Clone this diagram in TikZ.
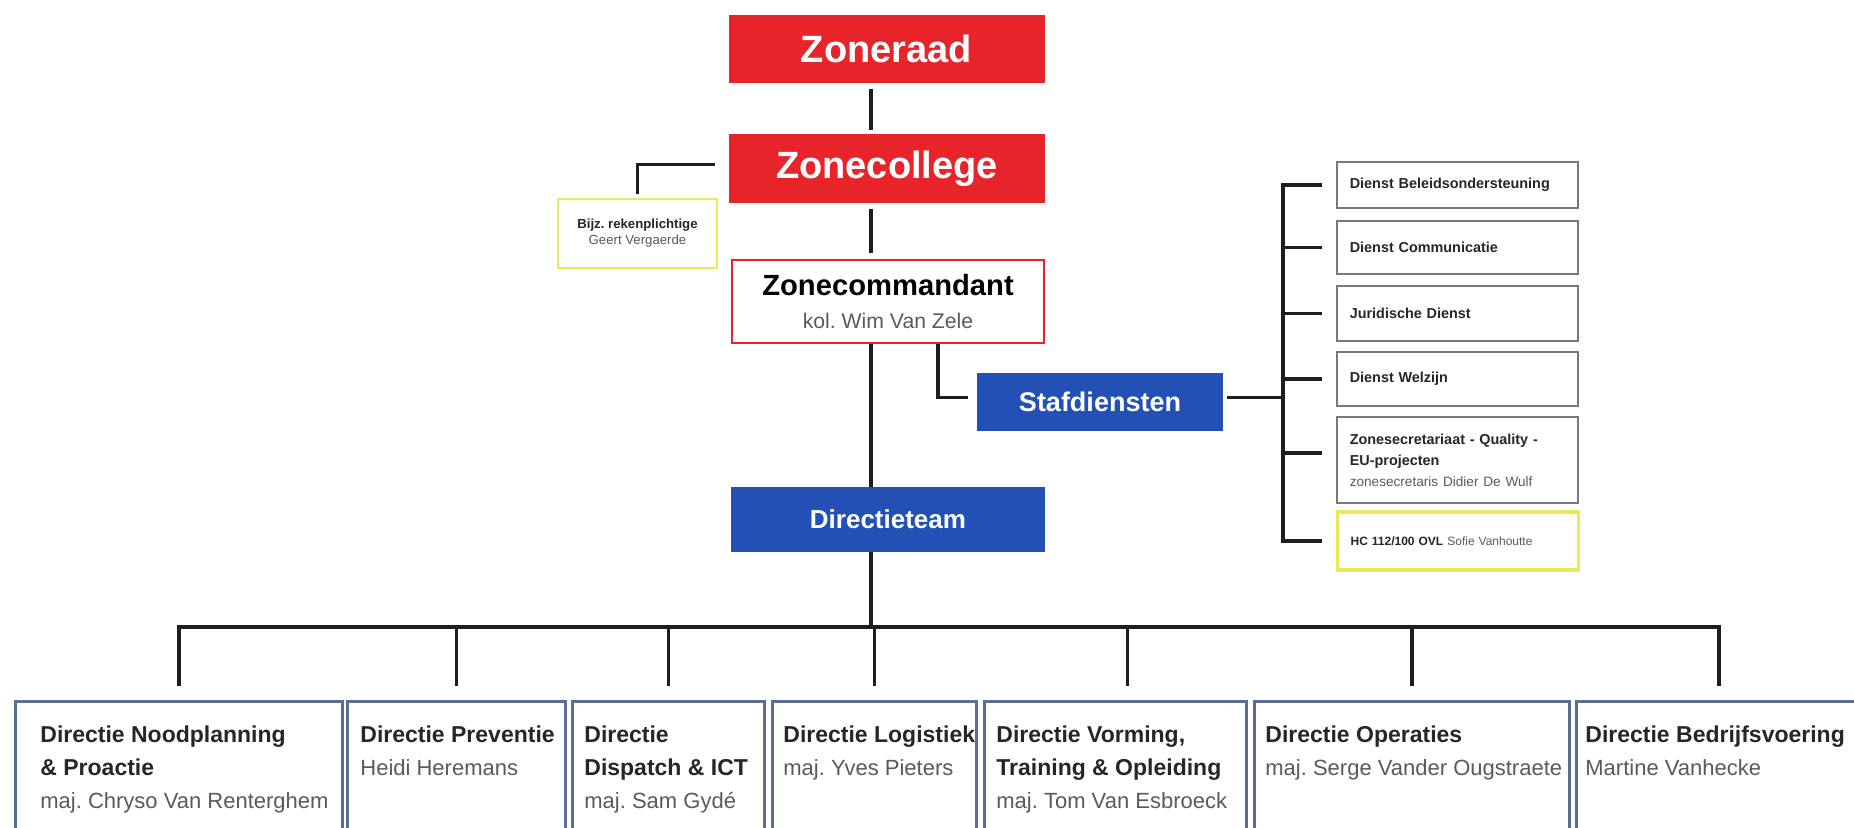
\documentclass[tikz,border=0pt]{standalone}
\usepackage{fontspec}
\setmainfont{Liberation Sans}
\frenchspacing
\definecolor{zred}{RGB}{230,36,42}
\definecolor{zblue}{RGB}{34,80,180}
\definecolor{zyel}{RGB}{236,232,90}
\definecolor{zbord}{RGB}{92,110,148}
\definecolor{zgrey}{RGB}{120,120,125}
\definecolor{ztext}{RGB}{38,38,38}
\definecolor{zname}{RGB}{90,90,90}
\definecolor{zline}{RGB}{30,30,30}
\begin{document}
\begin{tikzpicture}[x=0.5pt,y=-0.5pt,
  conn/.style={draw=zline,line width=1.8pt},
  redbox/.style={fill=zred,text=white,font=\bfseries\fontsize{19}{22}\selectfont,minimum width=158pt,inner sep=0pt},
  bluebox/.style={fill=zblue,text=white,inner sep=0pt},
  staffbox/.style={draw=zgrey,line width=0.8pt,fill=white,align=left,text width=107.5pt,inner xsep=6.5pt,inner ysep=0pt,font=\bfseries\fontsize{7.2}{10.5}\selectfont,text=ztext,anchor=west},
  dirbox/.style={draw=zbord,line width=1.6pt,anchor=north west,inner sep=0pt,minimum height=80pt},
  dirtext/.style={anchor=north west,inner sep=0pt,align=left,font=\bfseries\fontsize{11.5}{16.5}\selectfont,text=ztext}
]
\useasboundingbox (0,0) rectangle (1854,827);
\fill[white] (0,0) rectangle (1854,827);
\clip (0,0) rectangle (1854,827);

% helper coordinates
\coordinate (spine) at (871,0);
\coordinate (cS) at (938,0);
\coordinate (brx) at (1283,0);
\coordinate (barY) at (0,627);

% top chain
\node[redbox,minimum height=34pt] (zoneraad) at (886.5,49) {Zoneraad};
\node[redbox,minimum height=34.5pt] (zonecollege) at (887,168.5) {Zonecollege};
\node[draw=zred,line width=1.3pt,fill=white,minimum width=156pt,minimum height=41.5pt,align=center,inner sep=0pt,
      font=\fontsize{10.6}{16.5}\selectfont] (zcmd) at (888,301.5)
  {{\bfseries\fontsize{14.6}{16.5}\selectfont Zonecommandant}\\{\color{zname}kol. Wim Van Zele}};
\node[draw=zyel,line width=1pt,fill=white,minimum width=79.5pt,minimum height=34.5pt,align=center,inner sep=0pt,
      font=\fontsize{6.6}{8}\selectfont,text=ztext] (bijz) at (637.5,233.5)
  {\textbf{Bijz. rekenplichtige}\\{\color{zname}Geert Vergaerde}};
\node[bluebox,minimum width=123pt,minimum height=29pt,font=\bfseries\fontsize{13.5}{16}\selectfont] (staf) at (1100,401.5) {Stafdiensten};
\node[bluebox,minimum width=157pt,minimum height=32.5pt,font=\bfseries\fontsize{13}{16}\selectfont] (dteam) at (888,519.5) {Directieteam};

% staff services
\node[staffbox,minimum height=23pt] (r1) at (1336,185) {Dienst Beleidsondersteuning};
\node[staffbox,minimum height=26.5pt] (r2) at (1336,247.5) {Dienst Communicatie};
\node[staffbox,minimum height=27.5pt] (r3) at (1336,313.5) {Juridische Dienst};
\node[staffbox,minimum height=27pt] (r4) at (1336,379) {Dienst Welzijn};
\node[staffbox,minimum height=43pt] (r5) at (1336,460)
  {Zonesecretariaat - Quality -\\EU-projecten\\{\mdseries\fontsize{6.8}{10.5}\selectfont\color{zname}zonesecretaris Didier De Wulf}};
\node[staffbox,draw=zyel,line width=1.6pt,minimum height=29pt,font=\bfseries\fontsize{6}{8}\selectfont] (r6) at (1336,541)
  {HC 112/100 OVL {\mdseries\color{zname}Sofie Vanhoutte}};

% directorates
\node[dirbox,minimum width=163.5pt] (b1) at (14,700) {};
\node[dirbox,minimum width=109pt] (b2) at (346,700) {};
\node[dirbox,minimum width=96pt] (b3) at (571,700) {};
\node[dirbox,minimum width=102pt] (b4) at (771,700) {};
\node[dirbox,minimum width=131pt] (b5) at (983,700) {};
\node[dirbox,minimum width=157.5pt] (b6) at (1253,700) {};
\node[dirbox,minimum width=142.5pt] (b7) at (1575,700) {};

\node[dirtext] (t1) at ([xshift=13pt,yshift=-12.5pt]b1.north west)
  {Directie Noodplanning\\\& Proactie\\{\mdseries\fontsize{11}{16.5}\selectfont\color{zname}maj. Chryso Van Renterghem}};
\node[dirtext] (t2) at ([xshift=7pt,yshift=-12.5pt]b2.north west)
  {Directie Preventie\\{\mdseries\fontsize{11}{16.5}\selectfont\color{zname}Heidi Heremans}};
\node[dirtext] (t3) at ([xshift=6.5pt,yshift=-12.5pt]b3.north west)
  {Directie\\Dispatch \& ICT\\{\mdseries\fontsize{11}{16.5}\selectfont\color{zname}maj. Sam Gydé}};
\node[dirtext] (t4) at ([xshift=6pt,yshift=-12.5pt]b4.north west)
  {Directie Logistiek\\{\mdseries\fontsize{11}{16.5}\selectfont\color{zname}maj. Yves Pieters}};
\node[dirtext] (t5) at ([xshift=6.5pt,yshift=-12.5pt]b5.north west)
  {Directie Vorming,\\Training \& Opleiding\\{\mdseries\fontsize{11}{16.5}\selectfont\color{zname}maj. Tom Van Esbroeck}};
\node[dirtext] (t6) at ([xshift=6pt,yshift=-12.5pt]b6.north west)
  {Directie Operaties\\{\mdseries\fontsize{11}{16.5}\selectfont\color{zname}maj. Serge Vander Ougstraete}};
\node[dirtext] (t7) at ([xshift=5pt,yshift=-12.5pt]b7.north west)
  {Directie Bedrijfsvoering\\{\mdseries\fontsize{11}{16.5}\selectfont\color{zname}Martine Vanhecke}};

% connectors
\draw[conn,shorten <=3pt,shorten >=2pt] (zoneraad.south -| spine) -- (zonecollege.north -| spine);
\draw[conn,shorten <=3pt,shorten >=3pt] (zonecollege.south -| spine) -- (zcmd.north -| spine);
\draw[conn] (zcmd.south -| spine) -- (dteam.north -| spine);
\draw[conn,shorten <=7pt,shorten >=2pt] ([yshift=2pt]zonecollege.west) -| (bijz.north);
\draw[conn,shorten >=4.5pt] (zcmd.south -| cS) |- ([yshift=2pt]staf.west);
\draw[conn,shorten <=2pt] ([yshift=2pt]staf.east) -- ([yshift=2pt]staf.east -| brx);
\draw[conn] ([xshift=-7pt]r1.west) -- (r1.west -| brx) -- (r6.west -| brx) -- ([xshift=-7pt]r6.west);
\foreach \r in {r2,r3,r4} {\draw[conn] (\r.west -| brx) -- ([xshift=-7pt]\r.west);}
\draw[conn] ([yshift=3.5pt]r5.west -| brx) -- ([xshift=-7pt,yshift=3.5pt]r5.west);

\draw[conn] (dteam.south -| spine) -- (spine |- barY);
\draw[conn] ([yshift=7pt]b1.north) -- (b1.north |- barY) -- (b7.north |- barY) -- ([yshift=7pt]b7.north);
\foreach \b in {b2,b3,b4,b6} {\draw[conn] (\b.north |- barY) -- ([yshift=7pt]\b.north);}
\draw[conn] ([xshift=6pt]b5.north |- barY) -- ([xshift=6pt,yshift=7pt]b5.north);
\end{tikzpicture}
\end{document}
